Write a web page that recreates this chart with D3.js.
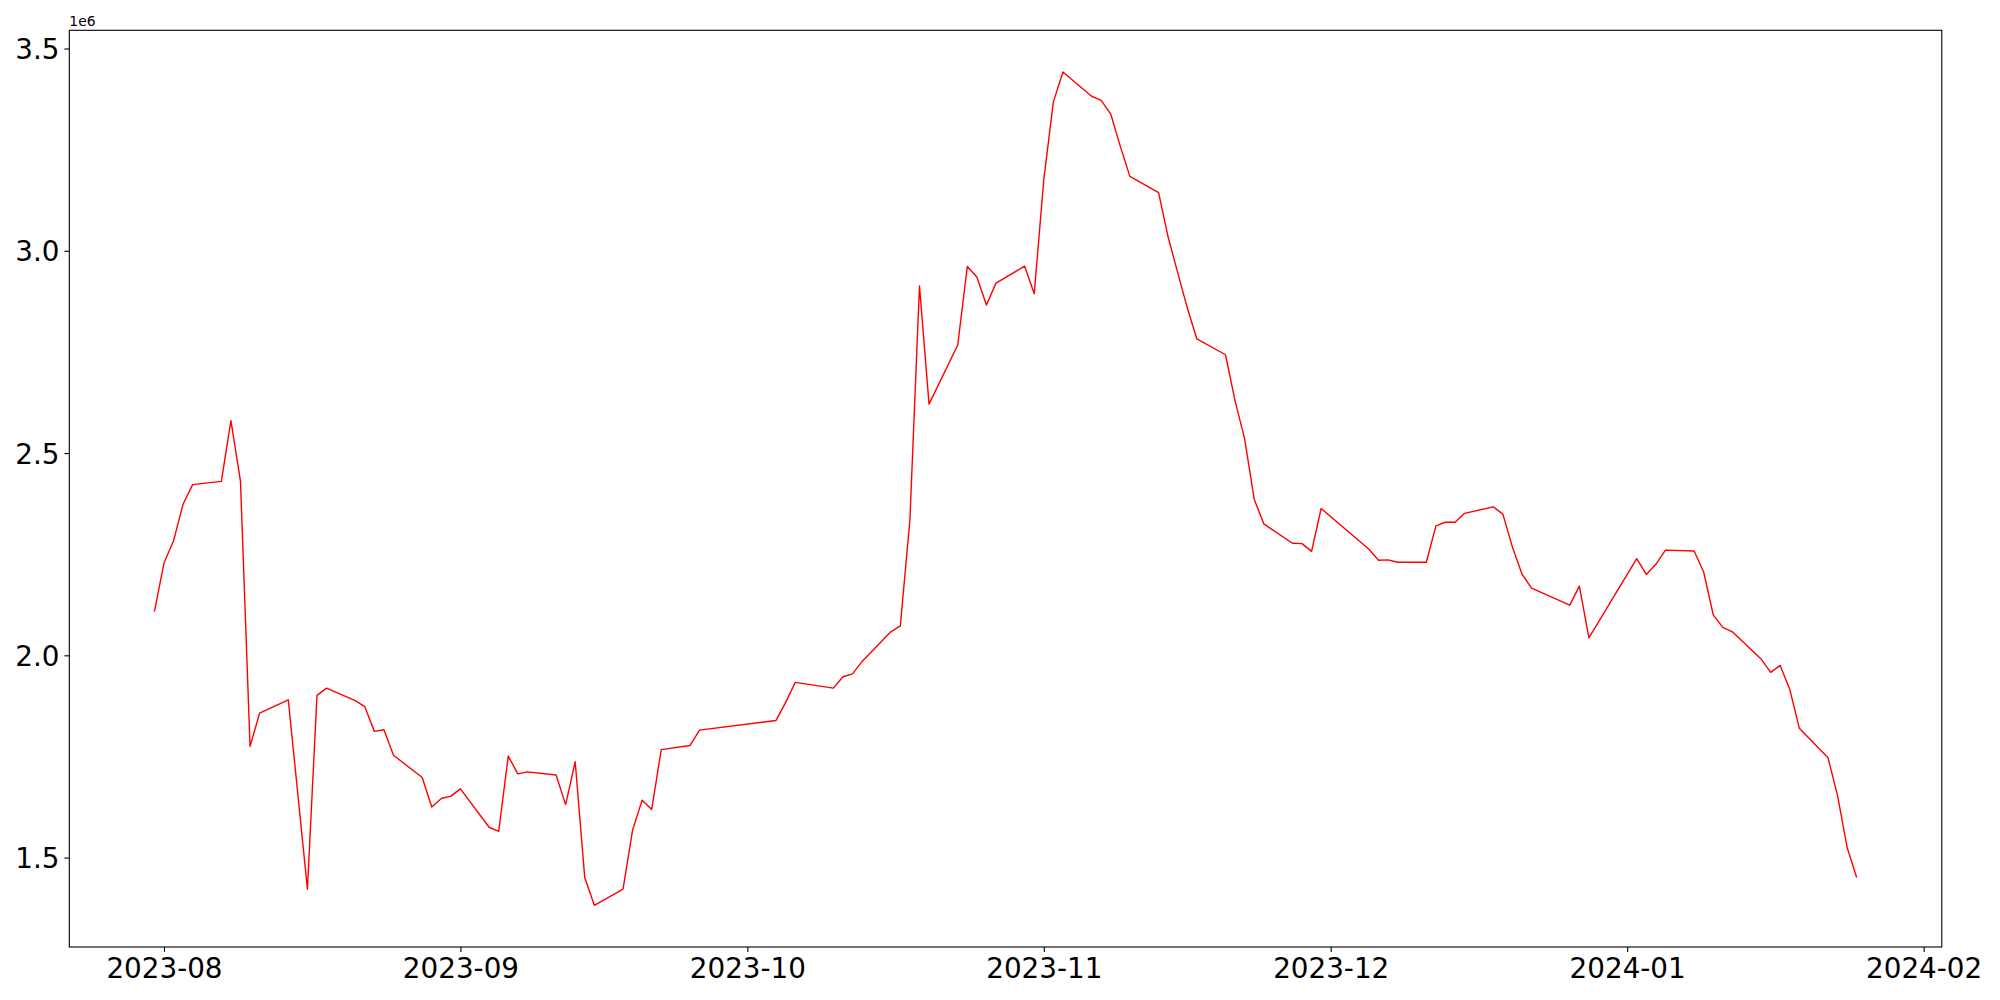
<!DOCTYPE html>
<html>
<head>
<meta charset="utf-8">
<script src="https://cdn.jsdelivr.net/npm/d3@7"></script>
<style>
  html, body { margin: 0; padding: 0; background: #ffffff; }
  svg { display: block; }
  text { font-family: "DejaVu Sans", sans-serif; fill: #000; }
</style>
</head>
<body>
<svg id="chart" width="2000" height="1000"></svg>
<script>
// ---- data ----
const dates = [
  "2023-07-31","2023-08-01","2023-08-02","2023-08-03","2023-08-04",
  "2023-08-07","2023-08-08","2023-08-09","2023-08-10","2023-08-11",
  "2023-08-14","2023-08-16","2023-08-17","2023-08-18",
  "2023-08-21","2023-08-22","2023-08-23","2023-08-24","2023-08-25",
  "2023-08-28","2023-08-29","2023-08-30","2023-08-31","2023-09-01",
  "2023-09-04","2023-09-05","2023-09-06","2023-09-07","2023-09-08",
  "2023-09-11","2023-09-12","2023-09-13","2023-09-14","2023-09-15",
  "2023-09-18","2023-09-19","2023-09-20","2023-09-21","2023-09-22",
  "2023-09-25","2023-09-26",
  "2023-10-04","2023-10-05","2023-10-06",
  "2023-10-10","2023-10-11","2023-10-12","2023-10-13",
  "2023-10-16","2023-10-17","2023-10-18","2023-10-19","2023-10-20",
  "2023-10-23","2023-10-24","2023-10-25","2023-10-26","2023-10-27",
  "2023-10-30","2023-10-31","2023-11-01","2023-11-02","2023-11-03",
  "2023-11-06","2023-11-07","2023-11-08","2023-11-09","2023-11-10",
  "2023-11-13","2023-11-14","2023-11-15","2023-11-16","2023-11-17",
  "2023-11-20","2023-11-21","2023-11-22","2023-11-23","2023-11-24",
  "2023-11-27","2023-11-28","2023-11-29","2023-11-30",
  "2023-12-05","2023-12-06","2023-12-07","2023-12-08",
  "2023-12-11","2023-12-12","2023-12-13","2023-12-14","2023-12-15",
  "2023-12-18","2023-12-19","2023-12-20","2023-12-21","2023-12-22",
  "2023-12-26","2023-12-27","2023-12-28",
  "2024-01-02","2024-01-03","2024-01-04","2024-01-05",
  "2024-01-08","2024-01-09","2024-01-10","2024-01-11","2024-01-12",
  "2024-01-15","2024-01-16","2024-01-17","2024-01-18","2024-01-19",
  "2024-01-22","2024-01-23","2024-01-24","2024-01-25"
];
const values = [
  2108000,2228000,2283000,2374000,2422000,
  2430000,2580000,2430000,1775000,1857000,
  1890000,1422000,1901000,1919000,
  1888000,1873000,1812000,1816000,1753000,
  1698000,1625000,1646000,1652000,1670000,
  1575000,1565000,1751000,1707000,1712000,
  1704000,1631000,1737000,1450000,1382000,
  1422000,1568000,1642000,1619000,1767000,
  1777000,1815000,
  1839000,1883000,1933000,
  1919000,1947000,1954000,1985000,
  2058000,2073000,2335000,2913000,2621000,
  2767000,2961000,2935000,2866000,2920000,
  2962000,2894000,3176000,3368000,3442000,
  3382000,3372000,3338000,3258000,3184000,
  3144000,3034000,2946000,2859000,2782000,
  2743000,2629000,2535000,2386000,2325000,
  2277000,2276000,2257000,2363000,
  2262000,2235000,2236000,2230000,
  2230000,2320000,2329000,2329000,2351000,
  2367000,2349000,2268000,2201000,2166000,
  2124000,2171000,2043000,
  2239000,2200000,2225000,2260000,
  2258000,2206000,2100000,2069000,2058000,
  1991000,1958000,1975000,1916000,1820000,
  1747000,1653000,1525000,1451000
];
const yTickValues = [1500000, 2000000, 2500000, 3000000, 3500000];
const yTickLabels = ["1.5", "2.0", "2.5", "3.0", "3.5"];
const xTickDates = ["2023-08-01","2023-09-01","2023-10-01","2023-11-01","2023-12-01","2024-01-01","2024-02-01"];
const xTickLabels = ["2023-08","2023-09","2023-10","2023-11","2023-12","2024-01","2024-02"];
const offsetLabel = "1e6";

(function () {
// ---- layout ----
const mLeft = 69.3, mRight = 1941.8, mTop = 30.3, mBottom = 947;
const parse = d3.utcParse("%Y-%m-%d");
const data = dates.map((d, i) => ({ date: parse(d), value: values[i] }));

const [x0, x1] = d3.extent(data, d => +d.date);
const xPad = (x1 - x0) * 0.05;
const [y0, y1] = d3.extent(data, d => d.value);
const yPad = (y1 - y0) * 0.05;

const x = d3.scaleUtc().domain([new Date(x0 - xPad), new Date(x1 + xPad)]).range([mLeft, mRight]);
const y = d3.scaleLinear().domain([y0 - yPad, y1 + yPad]).range([mBottom, mTop]);

const svg = d3.select("#chart");
svg.append("rect").attr("width", 2000).attr("height", 1000).attr("fill", "#fff");

// line
const line = d3.line().x(d => x(d.date)).y(d => y(d.value));
svg.append("path")
  .datum(data)
  .attr("d", line)
  .attr("fill", "none")
  .attr("stroke", "#ff0000")
  .attr("stroke-width", 1.4)
  .attr("stroke-linejoin", "round");

// x axis
const xAxis = d3.axisBottom(x)
  .tickValues(xTickDates.map(parse))
  .tickFormat((d, i) => xTickLabels[i])
  .tickSize(4.9)
  .tickPadding(4.9);
const gx = svg.append("g").attr("transform", `translate(0,${mBottom})`).call(xAxis);
gx.select(".domain").remove();
gx.selectAll(".tick line").attr("stroke", "#000").attr("stroke-width", 1.1);
gx.selectAll(".tick text")
  .attr("font-size", "27.8px")
  .attr("font-family", "DejaVu Sans, sans-serif")
  .attr("fill", "#000")
  .attr("dy", "0.76em");

// y axis
const yAxis = d3.axisLeft(y)
  .tickValues(yTickValues)
  .tickFormat((d, i) => yTickLabels[i])
  .tickSize(4.9)
  .tickPadding(4.9);
const gy = svg.append("g").attr("transform", `translate(${mLeft},0)`).call(yAxis);
gy.select(".domain").remove();
gy.selectAll(".tick line").attr("stroke", "#000").attr("stroke-width", 1.1);
gy.selectAll(".tick text")
  .attr("font-size", "27.8px")
  .attr("font-family", "DejaVu Sans, sans-serif")
  .attr("fill", "#000")
  .attr("dy", "0.36em");

// frame
svg.append("rect")
  .attr("x", mLeft).attr("y", mTop)
  .attr("width", mRight - mLeft).attr("height", mBottom - mTop)
  .attr("fill", "none").attr("stroke", "#000").attr("stroke-width", 1.1);

// offset text
svg.append("text")
  .attr("x", mLeft).attr("y", mTop - 4.5)
  .attr("font-size", "13.9px")
  .text(offsetLabel);
})();
</script>
</body>
</html>
